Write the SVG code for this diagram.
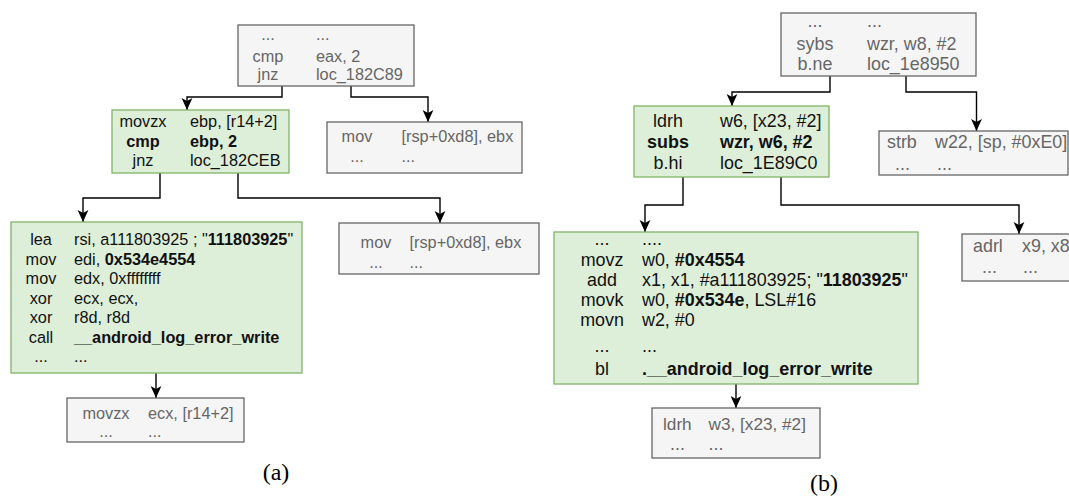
<svg xmlns="http://www.w3.org/2000/svg" width="1069" height="498" viewBox="0 0 1069 498">
<style>
text{font-family:"Liberation Sans",Arial,sans-serif;font-size:16.3px}
.pb text{font-size:17.9px}
.g rect{fill:#f5f5f5;stroke:#666;stroke-width:1.3}
.g text{fill:#666}
.v rect{fill:#ddefd9;stroke:#82b366;stroke-width:1.3}
.v text{fill:#111}
.m{text-anchor:middle}
.b{font-weight:bold}
.c path{fill:none;stroke:#000;stroke-width:1.4;marker-end:url(#ah)}
.cap{font-family:"Liberation Serif","Times New Roman",serif;font-size:24px;fill:#000;text-anchor:middle}
</style>
<defs>
<marker id="ah" markerUnits="userSpaceOnUse" markerWidth="12" markerHeight="12" refX="10" refY="5" orient="auto" viewBox="0 0 10 10">
<path d="M0,0.5 L10,5 L0,9.5 L2.5,5 Z" fill="#000"/>
</marker>
</defs>
<rect width="1069" height="498" fill="#fff"/>
<g class="c" id="connectors">
<path d="M282,86 V97 H187 V110"/>
<path d="M351,86 V97 H428 V122"/>
<path d="M160,173 V198 H83 V222"/>
<path d="M238,173 V198 H440 V223"/>
<path d="M156,373 V398"/>
<path d="M830,76 V92 H732 V106"/>
<path d="M906,76 V92 H976.5 V131"/>
<path d="M683,177 V205 H645 V232"/>
<path d="M781,177 V205 H1019 V234"/>
<path d="M736,384 V408"/>
</g>
<g id="a_top" class="g">
<rect x="238" y="25" width="176" height="61"/>
<text x="268" y="40" class="m">...</text><text x="316" y="40">...</text>
<text x="268" y="62" class="m">cmp</text><text x="316" y="62">eax, 2</text>
<text x="268" y="80" class="m">jnz</text><text x="316" y="80">loc_182C89</text>
</g>
<g id="a_cmp" class="v">
<rect x="112" y="110" width="177" height="63"/>
<text x="143" y="127" class="m">movzx</text><text x="190" y="127">ebp, [r14+2]</text>
<text x="143" y="146.5" class="m b">cmp</text><text x="190" y="146.5" class="b">ebp, 2</text>
<text x="143" y="165.5" class="m">jnz</text><text x="190" y="165.5">loc_182CEB</text>
</g>
<g id="a_mov1" class="g">
<rect x="327" y="122" width="195" height="51"/>
<text x="357" y="141.5" class="m">mov</text><text x="401.5" y="141.5">[rsp+0xd8], ebx</text>
<text x="357" y="161.5" class="m">...</text><text x="401.5" y="161.5">...</text>
</g>
<g id="a_log" class="v">
<rect x="11" y="222" width="291" height="151"/>
<text x="41" y="245" class="m">lea</text><text x="74" y="245">rsi, a111803925 ; "<tspan class="b">111803925</tspan>"</text>
<text x="41" y="264.5" class="m">mov</text><text x="74" y="264.5">edi, <tspan class="b">0x534e4554</tspan></text>
<text x="41" y="284" class="m">mov</text><text x="74" y="284">edx, 0xffffffff</text>
<text x="41" y="303.5" class="m">xor</text><text x="74" y="303.5">ecx, ecx,</text>
<text x="41" y="323" class="m">xor</text><text x="74" y="323">r8d, r8d</text>
<text x="41" y="342.5" class="m">call</text><text x="74" y="342.5" class="b">__android_log_error_write</text>
<text x="41" y="362" class="m">...</text><text x="74" y="362">...</text>
</g>
<g id="a_mov2" class="g">
<rect x="339" y="223" width="200" height="51"/>
<text x="376" y="248" class="m">mov</text><text x="409.5" y="248">[rsp+0xd8], ebx</text>
<text x="376" y="268" class="m">...</text><text x="409.5" y="268">...</text>
</g>
<g id="a_bottom" class="g">
<rect x="67" y="398" width="177" height="44"/>
<text x="106" y="419" class="m">movzx</text><text x="148" y="419">ecx, [r14+2]</text>
<text x="106" y="437" class="m">...</text><text x="148" y="437">...</text>
</g>
<text x="276" y="480" class="cap">(a)</text>
<g class="pb">
<g id="b_top" class="g">
<rect x="781" y="13" width="195" height="63"/>
<text x="815" y="27" class="m">...</text><text x="867" y="27">...</text>
<text x="815" y="50" class="m">sybs</text><text x="867" y="50">wzr, w8, #2</text>
<text x="815" y="70" class="m">b.ne</text><text x="867" y="70">loc_1e8950</text>
</g>
<g id="b_ldrh" class="v">
<rect x="634" y="106" width="195" height="71"/>
<text x="668" y="127" class="m">ldrh</text><text x="720" y="127">w6, [x23, #2]</text>
<text x="668" y="148" class="m b">subs</text><text x="720" y="148" class="b">wzr, w6, #2</text>
<text x="668" y="168.5" class="m">b.hi</text><text x="720" y="168.5">loc_1E89C0</text>
</g>
<g id="b_strb" class="g">
<rect x="879" y="131" width="189" height="44"/>
<text x="887" y="147.5">strb</text><text x="935" y="147.5">w22, [sp, #0xE0]</text>
<text x="895" y="170">...</text><text x="937" y="170">...</text>
</g>
<g id="b_log" class="v">
<rect x="554" y="232" width="364" height="152"/>
<text x="602" y="245" class="m">...</text><text x="642" y="245">....</text>
<text x="602" y="266" class="m">movz</text><text x="642" y="266">w0, <tspan class="b">#0x4554</tspan></text>
<text x="602" y="286" class="m">add</text><text x="642" y="286">x1, x1, #a111803925; "<tspan class="b">11803925</tspan>"</text>
<text x="602" y="306" class="m">movk</text><text x="642" y="306">w0, <tspan class="b">#0x534e</tspan>, LSL#16</text>
<text x="602" y="326" class="m">movn</text><text x="642" y="326">w2, #0</text>
<text x="602" y="352" class="m">...</text><text x="642" y="352">...</text>
<text x="602" y="375" class="m">bl</text><text x="642" y="375" class="b">.__android_log_error_write</text>
</g>
<g id="b_adrl" class="g">
<rect x="962" y="234" width="120" height="47"/>
<text x="973" y="252">adrl</text><text x="1022" y="252">x9, x8</text>
<text x="982" y="273">...</text><text x="1023" y="273">...</text>
</g>
<g id="b_bottom" class="g">
<rect x="652" y="408" width="168" height="50"/>
<text x="663" y="430" style="font-size:17.2px">ldrh</text><text x="708.5" y="430" style="font-size:17.2px">w3, [x23, #2]</text>
<text x="670" y="450">...</text><text x="708.5" y="450">...</text>
</g>
</g>
<text x="824" y="491" class="cap">(b)</text>
</svg>
